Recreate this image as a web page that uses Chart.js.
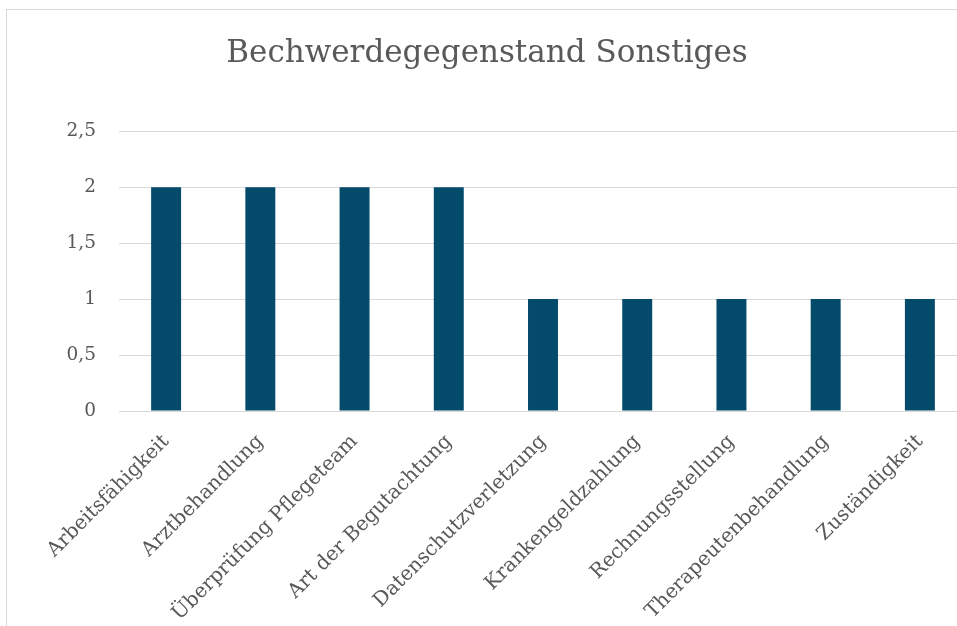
<!DOCTYPE html>
<html>
<head>
<meta charset="utf-8">
<script src="https://cdn.jsdelivr.net/npm/chart.js@4/dist/chart.umd.min.js"></script>
<style>
  html, body { margin: 0; padding: 0; background: #ffffff; overflow: hidden; width: 957px; height: 626px; }
  #wrap { position: absolute; left: 6px; top: 9px; width: 960px; height: 640px; border: 1px solid #d9d9d9; background: #fff; }
  canvas { display: block; }
</style>
</head>
<body>
<div id="wrap"><canvas id="c" width="960" height="640"></canvas></div>
<script>
const titleText = 'Bechwerdegegenstand Sonstiges';
const categories = ['Arbeitsfähigkeit', 'Arztbehandlung', 'Überprüfung Pflegeteam', 'Art der Begutachtung', 'Datenschutzverletzung', 'Krankengeldzahlung', 'Rechnungsstellung', 'Therapeutenbehandlung', 'Zuständigkeit'];
const values = [2, 2, 2, 2, 1, 1, 1, 1, 1];
const yTickLabels = ['0', '0,5', '1', '1,5', '2', '2,5'];

const textColor = '#595959';
const gridColor = '#d9d9d9';
const barColor = '#034a6b';
const fontFamily = '"DejaVu Serif", serif';

new Chart(document.getElementById('c'), {
  type: 'bar',
  data: {
    labels: categories,
    datasets: [{
      data: values,
      backgroundColor: barColor,
      borderWidth: 0,
      categoryPercentage: 1,
      barPercentage: 0.318
    }]
  },
  options: {
    responsive: false,
    animation: false,
    devicePixelRatio: 1,
    layout: { padding: { left: 0, right: 0, top: 0, bottom: 0 } },
    plugins: {
      legend: { display: false },
      tooltip: { enabled: false },
      title: {
        display: true,
        text: titleText,
        color: textColor,
        font: { family: fontFamily, size: 31, weight: 'normal', lineHeight: 1.2 },
        padding: { top: 25, bottom: 59 }
      }
    },
    scales: {
      x: {
        grid: { display: false, drawTicks: false },
        border: { display: false },
        ticks: {
          color: textColor,
          font: { family: fontFamily, size: 20 },
          autoSkip: false,
          maxRotation: 45,
          minRotation: 45,
          padding: 19
        },
        afterFit: (s) => { s.height = 640 - 401; }
      },
      y: {
        min: 0,
        max: 2.5,
        grid: { color: gridColor, lineWidth: 1, drawTicks: false },
        border: { display: false },
        ticks: {
          stepSize: 0.5,
          color: textColor,
          font: { family: fontFamily, size: 18.5 },
          padding: 23,
          callback: (v, i) => yTickLabels[i]
        },
        afterFit: (s) => { s.width = 112; }
      }
    }
  }
});
</script>
</body>
</html>
